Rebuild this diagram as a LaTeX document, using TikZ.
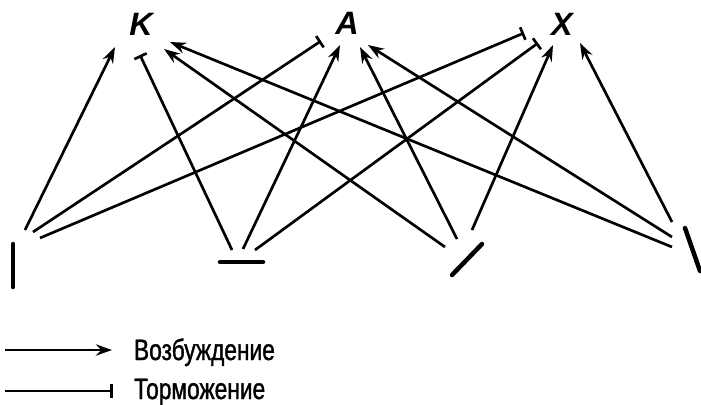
\documentclass[tikz,border=0pt]{standalone}
\usepackage{fontspec}
\setmainfont{Liberation Sans}
\newfontfamily\legendfont{Liberation Sans}[FakeStretch=0.77,FakeBold=1.2]
\usetikzlibrary{arrows.meta}

\begin{document}
\begin{tikzpicture}[
  x=0.025cm, y=-0.025cm,
  line width=1.9pt,
  exc/.style={
    -{Stealth[length=4mm,width=2.8mm]}
  },
  inh/.style={
    -{Bar[width=3.4mm,line width=1.9pt]}
  },
  det/.style={
    line width=3.2pt,
    line cap=round
  },
  letter/.style={
    font=\fontsize{23}{25}\selectfont\bfseries\itshape
  },
  legend/.style={
    anchor=base west,
    font=\legendfont\fontsize{21}{24}\selectfont
  }
]
\useasboundingbox (0,0) rectangle (701,404);

% Output letters
\node[letter] (K) at (141,24) {K};
\node[letter] (A) at (347,23) {A};
\node[letter] (X) at (562,24) {X};

% Line ends at the letters
\coordinate (k1) at (115,47);
\coordinate (k2) at (140,55);
\coordinate (k3) at (164,49);
\coordinate (k4) at (170,42);
\coordinate (a1) at (321,41);
\coordinate (a2) at (340,45);
\coordinate (a3) at (360,47);
\coordinate (a4) at (368,45);
\coordinate (x1) at (524,33);
\coordinate (x2) at (538,43);
\coordinate (x3) at (553,45);
\coordinate (x4) at (580,43);

% Detectors
\draw[det] (13,244) -- (13,287);
\draw[det] (220,262) -- (263,262);
\draw[det] (452,275) -- (482,244);
\draw[det] (685,228) -- (700,271);

% Line starts at the detectors
\coordinate (d1k) at (25,230);
\coordinate (d1a) at (33,232);
\coordinate (d1x) at (40,238);
\coordinate (d2k) at (232,250);
\coordinate (d2a) at (243,249);
\coordinate (d2x) at (255,250);
\coordinate (d3k) at (445,247);
\coordinate (d3a) at (457,239);
\coordinate (d3x) at (472,230);
\coordinate (d4x) at (672,222);
\coordinate (d4a) at (672,237);
\coordinate (d4k) at (672,247);

% Vertical detector
\draw[exc] (d1k) -- (k1);
\draw[inh] (d1a) -- (a1);
\draw[inh] (d1x) -- (x1);

% Horizontal detector
\draw[inh] (d2k) -- (k2);
\draw[exc] (d2a) -- (a2);
\draw[inh] (d2x) -- (x2);

% Oblique detectors
\draw[exc] (d3k) -- (k3);
\draw[exc] (d3a) -- (a3);
\draw[exc] (d3x) -- (x3);
\draw[exc] (d4k) -- (k4);
\draw[exc] (d4a) -- (a4);
\draw[exc] (d4x) -- (x4);

% Legend
\coordinate (le1) at (5,350);
\coordinate (le2) at (112,350);
\coordinate (li1) at (5,391);
\coordinate (li2) at (113,391);
\draw[exc] (le1) -- (le2);
\node[legend] (lexc) at (128,360) {Возбуждение};
\draw[inh] (li1) -- (li2);
\node[legend] (linh) at (128,399) {Торможение};

\end{tikzpicture}
\end{document}
